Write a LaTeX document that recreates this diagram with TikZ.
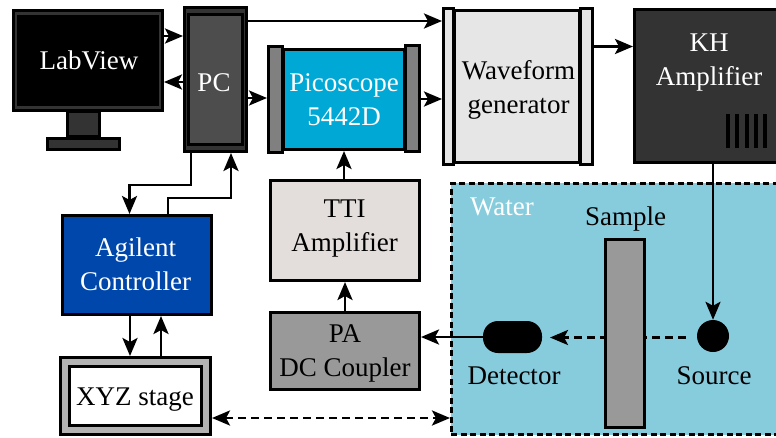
\documentclass[tikz,border=0pt]{standalone}
\usepackage{fontspec}
\setmainfont{Liberation Serif}
\usetikzlibrary{arrows.meta}
\definecolor{darkpc}{HTML}{333333}
\definecolor{midpc}{HTML}{4D4D4D}
\definecolor{pico}{HTML}{00A8D6}
\definecolor{barg}{HTML}{808080}
\definecolor{wave}{HTML}{E6E6E6}
\definecolor{tti}{HTML}{E3DEDB}
\definecolor{pag}{HTML}{999999}
\definecolor{agil}{HTML}{0047AB}
\definecolor{stageg}{HTML}{B3B3B3}
\definecolor{water}{HTML}{87CCDD}
\tikzset{
  bx/.style={draw=black,line width=2.8pt,inner sep=0pt},
  plain/.style={inner sep=0pt,align=center,font=\fontsize{27}{34}\selectfont},
  wlabel/.style={plain,text=white},
  conn/.style={line width=2.8pt,-{Stealth[length=18pt,width=15pt,inset=4pt]}},
  dconn/.style={conn,dash pattern=on 8pt off 5pt},
}
% [style]{name}{x1}{y1}{x2}{y2} : outer extents in pixels
\newcommand{\outbox}[6][]{%
  \pgfmathsetmacro{\cxx}{(#3+#5)/2}%
  \pgfmathsetmacro{\cyy}{(#4+#6)/2}%
  \pgfmathsetmacro{\ww}{#5-#3-2.8}%
  \pgfmathsetmacro{\hh}{#6-#4-2.8}%
  \node[bx,minimum width=\ww pt,minimum height=\hh pt,#1] (#2) at (\cxx,\cyy) {};%
}
\begin{document}
\begin{tikzpicture}[x=1pt,y=-1pt]
\useasboundingbox (0,0) rectangle (776,437);
\fill[white] (0,0) rectangle (776,437);
% water
\outbox[fill=water,dash pattern=on 6pt off 3.5pt]{tank}{450}{182}{790}{436}
\node[wlabel] (waterl) at (502,207) {Water};
% monitor
\outbox[fill=darkpc]{stand}{66}{110}{101}{138}
\outbox[fill=darkpc]{base}{46}{137}{121}{151}
\outbox[fill=darkpc]{mon}{12}{9}{164}{112}
\outbox[fill=black]{screen}{17}{15}{159}{106}
\node[wlabel] (screenl) at (89,60.5) {LabView};
% PC
\outbox[fill=darkpc]{pc}{183}{6}{248}{153}
\outbox[fill=midpc]{pci}{187}{13}{244}{146}
\node[wlabel] (pcl) at (214,82.5) {PC};
% Picoscope
\outbox[fill=pico]{pico}{282}{48}{406}{151}
\outbox[fill=barg]{picol}{267}{45}{284}{154}
\outbox[fill=barg]{picor}{404}{44}{421}{153}
\node[wlabel] (picot) at (344,99.5) {Picoscope\\5442D};
% Waveform
\outbox[fill=wave]{wavem}{453}{9}{581}{164}
\outbox[fill=wave]{wavel}{442}{7}{455}{166}
\outbox[fill=wave]{waver}{579}{7}{594}{166}
\node[plain] (wavet) at (518.5,89.5) {Waveform\\generator};
% KH
\outbox[fill=darkpc]{kh}{633}{8}{790}{164}
\node[wlabel] (khl) at (709,62.5) {KH\\Amplifier};
\foreach \vx in {728,737.3,746.7,756,765.3}
  \fill[black] (\vx-2,114) rectangle (\vx+2,148);
% other boxes
\outbox[fill=tti]{ttia}{269}{179}{421}{282}
\node[plain] (ttit) at (344.5,228.5) {TTI\\Amplifier};
\outbox[fill=pag]{pa}{269}{311}{421}{391}
\node[plain] (pat) at (345,353) {PA\\DC Coupler};
\outbox[fill=agil]{ag}{61}{214}{213}{316}
\node[wlabel] (agt) at (135.5,264) {Agilent\\Controller};
\outbox[fill=stageg]{xyz}{59}{356}{212}{436}
\outbox[fill=white]{xyzi}{68}{365}{203}{427}
\node[plain] (xyzt) at (135,400) {XYZ stage};
% water contents
\node[plain] (samplel) at (625.5,219) {Sample};
\node[plain] (detl) at (514,376) {Detector};
\node[plain] (srcl) at (714,376) {Source};
\node[circle,fill=black,minimum size=32pt,inner sep=0pt] (src) at (713,336) {};
\node[rectangle,rounded corners=15pt,fill=black,minimum width=59pt,minimum height=32pt,inner sep=0pt] (det) at (512.5,337) {};
% dashed source to detector (behind sample)
\coordinate (dsrc) at (686,337.5);
\coordinate (ddet) at (550,337.5);
\draw[dconn] (dsrc) -- (ddet);
\outbox[fill=pag]{sample}{604}{238}{646}{429}
% connectors
\draw[conn] (mon.east |- 0,36) -- (pc.west |- 0,36);
\draw[conn] (pc.west |- 0,82) -- (mon.east |- 0,82);
\draw[conn] (pc.east |- 0,98) -- (picol.west |- 0,98);
\draw[conn] (pc.east |- 0,21) -- (wavel.west |- 0,21);
\coordinate (pcd) at (191,185);
\coordinate (agd) at (129.5,185);
\draw[conn] (pc.south -| pcd) -- (pcd) -- (agd) -- (ag.north -| agd);
\coordinate (agu) at (168,198);
\coordinate (pcu) at (231,198);
\draw[conn] (ag.north -| agu) -- (agu) -- (pcu) -- (pc.south -| pcu);
\draw[conn] (picor.east |- 0,99) -- (wavel.west |- 0,99);
\draw[conn] (waver.east |- 0,46.5) -- (kh.west |- 0,46.5);
\draw[conn] (ttia.north -| pico.south) -- (pico.south);
\draw[conn] (pa.north) -- (ttia.south);
\draw[conn] (det.west) -- (pa.east |- det.west);
\draw[conn] (kh.south -| src.north) -- (src.north);
\draw[conn] (ag.south -| 130,0) -- (xyz.north -| 130,0);
\draw[conn] (xyz.north -| 161,0) -- (ag.south -| 161,0);
\draw[dconn,{Stealth[length=18pt,width=15pt,inset=4pt]}-{Stealth[length=18pt,width=15pt,inset=4pt]}] (xyz.east |- 0,418) -- (tank.west |- 0,418);
\end{tikzpicture}
\end{document}
